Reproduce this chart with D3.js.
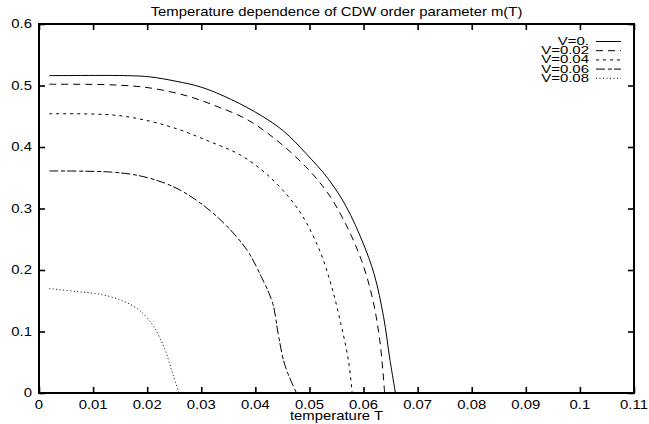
<!doctype html>
<html lang="en-US">
<head>
<meta charset="utf-8">
<title>Temperature dependence of CDW order parameter m(T)</title>
<script src="https://cdnjs.cloudflare.com/ajax/libs/d3/7.8.5/d3.min.js"></script>
<style>
  html, body { margin: 0; padding: 0; background: #fff; }
  svg { display: block; }
  text { font-family: "Liberation Sans", Arial, Helvetica, sans-serif; font-size: 12px; fill: #000; }
  text.legend { font-size: 11px; }
</style>
</head>
<body>
<svg id="chart" width="649" height="424"></svg>
<script>
// values
var xTicks = [0, 0.01, 0.02, 0.03, 0.04, 0.05, 0.06, 0.07, 0.08, 0.09, 0.1, 0.11];
var xTickLabels = ["0", "0.01", "0.02", "0.03", "0.04", "0.05", "0.06", "0.07", "0.08", "0.09", "0.1", "0.11"];
var yTicks = [0, 0.1, 0.2, 0.3, 0.4, 0.5, 0.6];
var yTickLabels = ["0", "0.1", "0.2", "0.3", "0.4", "0.5", "0.6"];

var seriesNames = ["V=0.", "V=0.02", "V=0.04", "V=0.06", "V=0.08"];

var tempV0 = [0.0019, 0.0164, 0.0205, 0.0253, 0.0301, 0.0356, 0.0411, 0.0452, 0.0493, 0.0534, 0.0568, 0.0599, 0.0620, 0.0637, 0.0649, 0.0659];
var mV0    = [0.516, 0.516, 0.514, 0.507, 0.497, 0.477, 0.451, 0.426, 0.390, 0.349, 0.303, 0.244, 0.192, 0.124, 0.053, 0];

var tempV02 = [0.0019, 0.0137, 0.0205, 0.0274, 0.0329, 0.0384, 0.0438, 0.0493, 0.0534, 0.0568, 0.0596, 0.0616, 0.0630, 0.0639];
var mV02    = [0.502, 0.501, 0.496, 0.483, 0.466, 0.445, 0.412, 0.368, 0.325, 0.273, 0.216, 0.156, 0.086, 0];

var tempV04 = [0.0019, 0.0137, 0.0205, 0.0260, 0.0315, 0.0370, 0.0418, 0.0466, 0.0493, 0.0521, 0.0541, 0.0558, 0.0572, 0.0579];
var mV04    = [0.454, 0.452, 0.442, 0.428, 0.409, 0.388, 0.358, 0.314, 0.279, 0.227, 0.173, 0.113, 0.053, 0];

var tempV06 = [0.0019, 0.0137, 0.0192, 0.0247, 0.0295, 0.0342, 0.0384, 0.0411, 0.0432, 0.0442, 0.0452, 0.0460, 0.0476];
var mV06    = [0.361, 0.359, 0.352, 0.336, 0.311, 0.276, 0.233, 0.189, 0.146, 0.097, 0.053, 0.032, 0];

var tempV08 = [0.0019, 0.0068, 0.0110, 0.0151, 0.0185, 0.0212, 0.0233, 0.0247, 0.0259];
var mV08    = [0.170, 0.165, 0.161, 0.151, 0.135, 0.108, 0.070, 0.032, 0];

// layout (plot frame in page pixels)
var plotLeft = 39, plotRight = 634, plotTop = 24, plotBottom = 393;
var SX = 1.24; // the glyphs in the picture are wider than tall

var svg = d3.select("#chart");
var x = d3.scaleLinear().domain([0, 0.11]).range([plotLeft, plotRight]);
var y = d3.scaleLinear().domain([0, 0.6]).range([plotBottom, plotTop]);

function label(parent, px, py, str, anchor, sx) {
  return parent.append("text")
    .attr("transform", "translate(" + px + "," + py + ") scale(" + (sx || SX) + ",1)")
    .attr("text-anchor", anchor)
    .text(str);
}

// ticks, pointing inward on all four sides
function styleAxis(g) {
  g.selectAll("text").remove();
  g.select(".domain").remove();
  g.selectAll(".tick line").attr("stroke", "#000").attr("stroke-width", 1.6);
}
svg.append("g").attr("transform", "translate(0," + plotBottom + ")")
  .call(d3.axisBottom(x).tickValues(xTicks).tickSize(-6)).call(styleAxis);
svg.append("g").attr("transform", "translate(0," + plotTop + ")")
  .call(d3.axisTop(x).tickValues(xTicks).tickSize(-6)).call(styleAxis);
svg.append("g").attr("transform", "translate(" + plotLeft + ",0)")
  .call(d3.axisLeft(y).tickValues(yTicks).tickSize(-6)).call(styleAxis);
svg.append("g").attr("transform", "translate(" + plotRight + ",0)")
  .call(d3.axisRight(y).tickValues(yTicks).tickSize(-6)).call(styleAxis);

// frame
svg.append("rect")
  .attr("x", plotLeft).attr("y", plotTop)
  .attr("width", plotRight - plotLeft).attr("height", plotBottom - plotTop)
  .attr("fill", "none").attr("stroke", "#000").attr("stroke-width", 2);

// tick labels
xTicks.forEach(function(v, i) { label(svg, x(v), plotBottom + 16, xTickLabels[i], "middle"); });
yTicks.forEach(function(v, i) { label(svg, plotLeft - 7, y(v) + 4.3, yTickLabels[i], "end"); });

// titles
label(svg, (plotLeft + plotRight) / 2, 16, "Temperature dependence of CDW order parameter m(T)", "middle");
label(svg, (plotLeft + plotRight) / 2, 420, "temperature T", "middle");

// curves
var temps = [tempV0, tempV02, tempV04, tempV06, tempV08];
var ms = [mV0, mV02, mV04, mV06, mV08];
var dashes = ["none", "7,5", "3,4", "9,3,4,2", "1,2.5"];

var line = d3.line()
  .x(function(d) { return x(d[0]); })
  .y(function(d) { return y(d[1]); })
  .curve(d3.curveCatmullRom.alpha(0.5));

seriesNames.forEach(function(name, i) {
  var pts = temps[i].map(function(t, j) { return [t, ms[i][j]]; });
  svg.append("path")
    .datum(pts)
    .attr("d", line)
    .attr("fill", "none")
    .attr("stroke", "#000")
    .attr("stroke-width", 1)
    .attr("stroke-dasharray", dashes[i]);
});

// legend
var legendTextX = 589, legendLineX1 = 596, legendLineX2 = 621;
seriesNames.forEach(function(name, i) {
  var base = 45 + i * 9.2;
  label(svg, legendTextX, base, name, "end", 1.36).attr("class", "legend");
  svg.append("line")
    .attr("x1", legendLineX1).attr("x2", legendLineX2)
    .attr("y1", base - 3.5).attr("y2", base - 3.5)
    .attr("stroke", "#000").attr("stroke-width", 1)
    .attr("stroke-dasharray", dashes[i]);
});
</script>
</body>
</html>
